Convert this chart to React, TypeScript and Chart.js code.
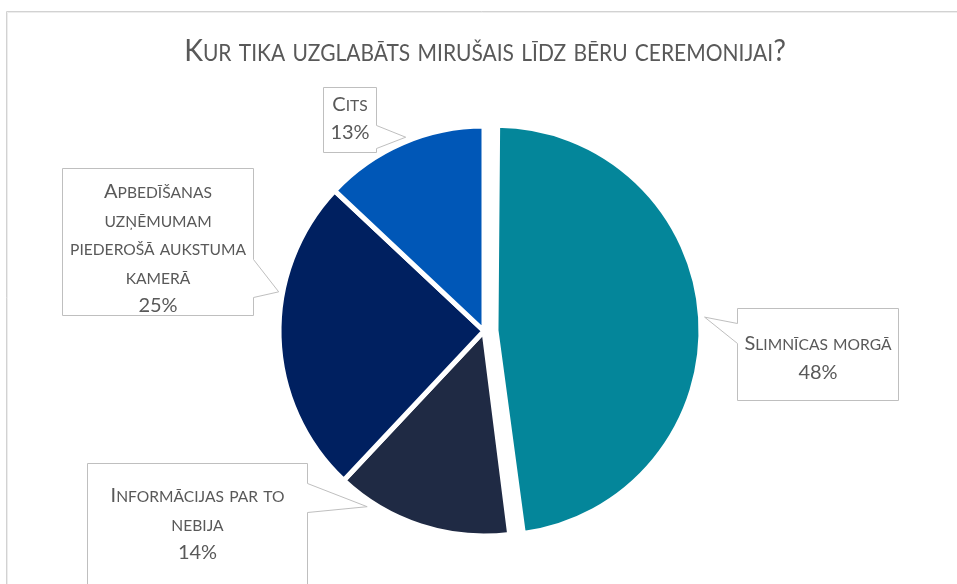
import React, { useEffect, useRef } from 'react';
import { Chart, registerables } from 'chart.js';

Chart.register(...registerables);

// ---------- data ----------
const titleText = 'Kur tika uzglabāts mirušais līdz bēru ceremonijai?';
const categoryLines: string[][] = [
  ['Slimnīcas morgā'],
  ['Informācijas par to', 'nebija'],
  ['Apbedīšanas', 'uzņēmumam', 'piederošā aukstuma', 'kamerā'],
  ['Cits'],
];
const categories = categoryLines.map((l) => l.join(' '));
const values = [48, 14, 25, 13];

// ---------- styles / layout ----------
const sliceColors = ['#04869A', '#1F2A44', '#002060', '#0057B7'];
const sliceOffsets = [48, 0, 0, 0];
const FONT = "Lato, 'Open Sans', sans-serif";
const TEXT_COLOR = '#595959';
const BOX_BORDER = '#BFBFBF';

// callout boxes relative to pie center; base = pointer base along the box edge (from box top)
const callouts = [
  { dx: 253, dy: -23, w: 161, h: 92, side: 'left', base: [15, 35], frac: 0.5, gap: 4, textDy: 0 },
  { dx: -397, dy: 132, w: 220, h: 130, side: 'right', base: [20, 49], frac: 0.81, gap: 6, textDy: -8 },
  { dx: -422, dy: -163, w: 191, h: 147, side: 'right', base: [91, 129], frac: 0.64, gap: 4, textDy: 3 },
  { dx: -161, dy: -244, w: 53, h: 65, side: 'right', base: [38, 61], frac: 0.53, gap: 4, textDy: -5 },
];

type Seg = { t: string; size: number };

function smallCapsSegs(text: string, big: number, ratio: number): Seg[] {
  const segs: Seg[] = [];
  for (const ch of text) {
    const lower = ch !== ch.toUpperCase();
    const size = lower ? big * ratio : big;
    const t = lower ? ch.toUpperCase() : ch;
    const last = segs[segs.length - 1];
    if (last && last.size === size) last.t += t;
    else segs.push({ t, size });
  }
  return segs;
}

function drawSmallCaps(
  ctx: CanvasRenderingContext2D,
  text: string,
  cx: number,
  baseline: number,
  big: number,
  ratio: number,
  sx: number = 1
) {
  const segs = smallCapsSegs(text, big, ratio);
  let total = 0;
  const widths = segs.map((s) => {
    ctx.font = `${s.size}px ${FONT}`;
    const w = ctx.measureText(s.t).width;
    total += w;
    return w;
  });
  ctx.save();
  ctx.translate(cx, baseline);
  ctx.scale(sx, 1);
  let x = -total / 2;
  ctx.textAlign = 'left';
  ctx.textBaseline = 'alphabetic';
  segs.forEach((s, i) => {
    ctx.font = `${s.size}px ${FONT}`;
    ctx.fillText(s.t, x, 0);
    x += widths[i];
  });
  ctx.restore();
}

const decorPlugin = {
  id: 'decor',
  afterDatasetsUpdate(chart: any) {
    const meta = chart.getDatasetMeta(0);
    meta.data.forEach((arc: any) => {
      const off = ((arc.options && arc.options.offset) || 0) / 4;
      if (off) {
        const circ = arc.endAngle - arc.startAngle;
        const fix = 1 - Math.sin(Math.min(Math.PI, circ));
        arc.outerRadius -= off * fix;
      }
    });
  },
  beforeDraw(chart: any) {
    const ctx: CanvasRenderingContext2D = chart.ctx;
    ctx.save();
    ctx.fillStyle = '#ffffff';
    ctx.fillRect(0, 0, chart.width, chart.height);
    ctx.lineWidth = 1;
    ctx.strokeStyle = '#D2D2D2';
    ctx.beginPath();
    ctx.moveTo(6.5, chart.height);
    ctx.lineTo(6.5, 11.5);
    ctx.lineTo(chart.width, 11.5);
    ctx.stroke();
    ctx.strokeStyle = '#EDEDED';
    ctx.beginPath();
    ctx.moveTo(7.5, chart.height);
    ctx.lineTo(7.5, 12.5);
    ctx.lineTo(chart.width, 12.5);
    ctx.stroke();
    ctx.restore();
  },
  afterDraw(chart: any) {
    const ctx: CanvasRenderingContext2D = chart.ctx;
    const meta = chart.getDatasetMeta(0);
    const area = chart.chartArea;
    const pcx = (area.left + area.right) / 2;
    const pcy = (area.top + area.bottom) / 2;
    const total = values.reduce((a, b) => a + b, 0);

    ctx.save();
    ctx.fillStyle = TEXT_COLOR;
    drawSmallCaps(ctx, titleText, pcx + 1, 61, 31, 0.74, 0.915);

    meta.data.forEach((arc: any, i: number) => {
      const c = callouts[i];
      const off = ((arc.options && arc.options.offset) || 0) / 4;
      const mid = (arc.startAngle + arc.endAngle) / 2;
      const circ = arc.endAngle - arc.startAngle;
      const fix = 1 - Math.sin(Math.min(Math.PI, circ));
      const r = arc.outerRadius + off * fix;
      const ax = arc.x + Math.cos(mid) * off;
      const ay = arc.y + Math.sin(mid) * off;
      const ang = arc.startAngle + c.frac * circ;
      const tipX = ax + Math.cos(ang) * (r + c.gap);
      const tipY = ay + Math.sin(ang) * (r + c.gap);

      const L = Math.round(pcx + c.dx) + 0.5;
      const T = Math.round(pcy + c.dy) + 0.5;
      const R = L + c.w;
      const B = T + c.h;

      ctx.beginPath();
      if (c.side === 'right') {
        ctx.moveTo(L, T);
        ctx.lineTo(R, T);
        ctx.lineTo(R, T + c.base[0]);
        ctx.lineTo(tipX, tipY);
        ctx.lineTo(R, T + c.base[1]);
        ctx.lineTo(R, B);
        ctx.lineTo(L, B);
      } else {
        ctx.moveTo(L, T);
        ctx.lineTo(R, T);
        ctx.lineTo(R, B);
        ctx.lineTo(L, B);
        ctx.lineTo(L, T + c.base[1]);
        ctx.lineTo(tipX, tipY);
        ctx.lineTo(L, T + c.base[0]);
      }
      ctx.closePath();
      ctx.fillStyle = '#ffffff';
      ctx.fill();
      ctx.lineWidth = 1;
      ctx.strokeStyle = BOX_BORDER;
      ctx.stroke();

      const pct = Math.round((values[i] / total) * 100) + '%';
      const lines = [...categoryLines[i], pct];
      const lh = 28.5;
      const bx = (L + R) / 2;
      const by = (T + B) / 2 + 3 + c.textDy;
      const first = by - ((lines.length - 1) * lh) / 2;
      ctx.fillStyle = TEXT_COLOR;
      lines.forEach((ln, k) => {
        drawSmallCaps(ctx, ln, bx, first + k * lh + 7, 20, 0.78);
      });
    });
    ctx.restore();
  },
};

export default function App() {
  const ref = useRef<HTMLCanvasElement>(null);
  useEffect(() => {
    const chart = new Chart(ref.current as HTMLCanvasElement, {
      type: 'pie',
      data: {
        labels: categories,
        datasets: [
          {
            data: values,
            backgroundColor: sliceColors,
            borderColor: '#ffffff',
            borderWidth: 5,
            offset: sliceOffsets,
          } as any,
        ],
      },
      options: {
        responsive: false,
        animation: false,
        radius: 205,
        layout: { padding: { left: 11, right: 0, top: 90, bottom: 12 } },
        plugins: {
          legend: { display: false },
          tooltip: { enabled: false },
          title: { display: false },
        },
      } as any,
      plugins: [decorPlugin],
    });
    return () => chart.destroy();
  }, []);
  return (
    <div style={{ position: 'fixed', left: 0, top: 0, width: 957, height: 584, background: '#fff' }}>
      <canvas ref={ref} width={957} height={584} style={{ display: 'block' }} />
    </div>
  );
}
